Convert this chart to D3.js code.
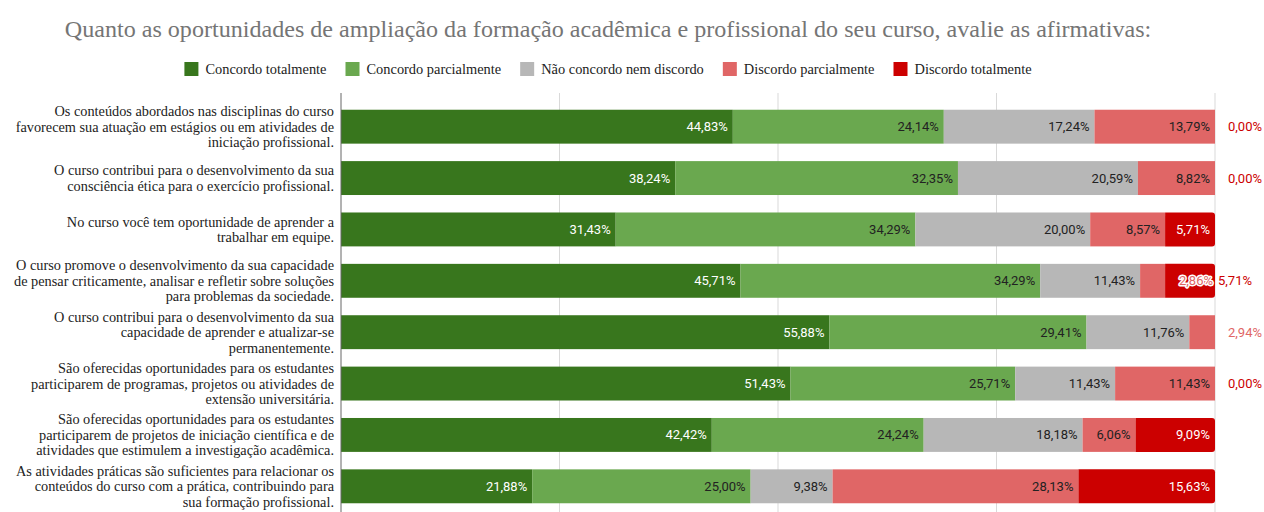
<!DOCTYPE html>
<html>
<head>
<meta charset="utf-8">
<script src="https://cdn.jsdelivr.net/npm/d3@7"></script>
<style>
  html, body { margin: 0; padding: 0; background: #fff; }
  svg { display: block; }
</style>
</head>
<body>
<svg id="chart" width="1264" height="512"></svg>
<script>
'use strict';

var title = 'Quanto as oportunidades de ampliação da formação acadêmica e profissional do seu curso, avalie as afirmativas:';

var categories = [
  'Os conteúdos abordados nas disciplinas do curso\nfavorecem sua atuação em estágios ou em atividades de\niniciação profissional.',
  'O curso contribui para o desenvolvimento da sua\nconsciência ética para o exercício profissional.',
  'No curso você tem oportunidade de aprender a\ntrabalhar em equipe.',
  'O curso promove o desenvolvimento da sua capacidade\nde pensar criticamente, analisar e refletir sobre soluções\npara problemas da sociedade.',
  'O curso contribui para o desenvolvimento da sua\ncapacidade de aprender e atualizar-se\npermanentemente.',
  'São oferecidas oportunidades para os estudantes\nparticiparem de programas, projetos ou atividades de\nextensão universitária.',
  'São oferecidas oportunidades para os estudantes\nparticiparem de projetos de iniciação científica e de\natividades que estimulem a investigação acadêmica.',
  'As atividades práticas são suficientes para relacionar os\nconteúdos do curso com a prática, contribuindo para\nsua formação profissional.'
];

var seriesNames = ['Concordo totalmente', 'Concordo parcialmente', 'Não concordo nem discordo', 'Discordo parcialmente', 'Discordo totalmente'];
var seriesColors = ['#38761d', '#6aa84f', '#b7b7b7', '#e06666', '#cc0000'];

var concordoTotal   = [44.83, 38.24, 31.43, 45.71, 55.88, 51.43, 42.42, 21.88];
var concordoParcial = [24.14, 32.35, 34.29, 34.29, 29.41, 25.71, 24.24, 25.00];
var neutro          = [17.24, 20.59, 20.00, 11.43, 11.76, 11.43, 18.18, 9.38];
var discordoParcial = [13.79, 8.82, 8.57, 2.86, 2.94, 11.43, 6.06, 28.13];
var discordoTotal   = [0.00, 0.00, 5.71, 5.71, 0.00, 0.00, 9.09, 15.63];

var gridTicks = [0, 0.25, 0.5, 0.75, 1];

var columns = [concordoTotal, concordoParcial, neutro, discordoParcial, discordoTotal];
var rows = categories.map(function(c, i) {
  var r = { cat: c, idx: i };
  seriesNames.forEach(function(s, j) { r[s] = columns[j][i]; });
  return r;
});

var svg = d3.select('#chart');
var margin = { left: 341, right: 49, top: 101 };

var x = d3.scaleLinear().domain([0, 1]).range([margin.left, 1264 - margin.right]);
var y = d3.scaleBand().domain(d3.range(categories.length)).range([margin.top, 512]).paddingInner(0.34).paddingOuter(0.17);

var stack = d3.stack().keys(seriesNames).offset(d3.stackOffsetExpand);
var layers = stack(rows);

var fmt = function(v) { return d3.format('.2f')(v).replace('.', ',') + '%'; };
var serif = '"Liberation Serif", "DejaVu Serif", serif';
var sans = 'Roboto, "Noto Sans", sans-serif';

// title
svg.append('text')
  .attr('x', 608).attr('y', 37)
  .attr('text-anchor', 'middle')
  .style('font-family', serif).style('font-size', '24.1px')
  .style('fill', '#757575')
  .text(title);

// legend
var legend = svg.append('g');
var lx = 0;
seriesNames.forEach(function(s, j) {
  var g = legend.append('g').attr('transform', 'translate(' + lx + ',0)');
  g.append('rect').attr('x', 0).attr('y', 62).attr('width', 14).attr('height', 14).attr('fill', seriesColors[j]);
  var t = g.append('text').attr('x', 21).attr('y', 74)
    .style('font-family', serif).style('font-size', '14.4px').style('fill', '#222')
    .text(s);
  lx += 21 + t.node().getComputedTextLength() + 19;
});
legend.attr('transform', 'translate(' + (608 - (lx - 19) / 2) + ',0)');

// grid
svg.append('g').selectAll('line')
  .data(gridTicks.slice(1))
  .enter().append('line')
  .attr('x1', function(d) { return x(d); }).attr('x2', function(d) { return x(d); })
  .attr('y1', 93).attr('y2', 512)
  .attr('stroke', '#d9d9d9').attr('stroke-width', 1);

// bars
var rightRound = function(x0, y0, w, h, r) {
  r = Math.min(r, w);
  return 'M' + x0 + ',' + y0 + 'H' + (x0 + w - r) + 'Q' + (x0 + w) + ',' + y0 + ' ' + (x0 + w) + ',' + (y0 + r) +
    'V' + (y0 + h - r) + 'Q' + (x0 + w) + ',' + (y0 + h) + ' ' + (x0 + w - r) + ',' + (y0 + h) + 'H' + x0 + 'Z';
};

layers.forEach(function(layer, j) {
  var g = svg.append('g');
  if (j === layers.length - 1) {
    g.selectAll('path').data(layer.filter(function(d) { return d[1] - d[0] > 0; }))
      .enter().append('path')
      .attr('d', function(d) {
        return rightRound(x(d[0]), y(d.data.idx), x(d[1]) - x(d[0]), y.bandwidth(), 3);
      })
      .attr('fill', seriesColors[j]);
  } else {
    g.selectAll('rect').data(layer)
      .enter().append('rect')
      .attr('x', function(d) { return x(d[0]); })
      .attr('y', function(d) { return y(d.data.idx); })
      .attr('width', function(d) { return Math.max(0, x(d[1]) - x(d[0])); })
      .attr('height', y.bandwidth())
      .attr('fill', seriesColors[j]);
  }
});

// axis line at 0
svg.append('line')
  .attr('x1', x(0)).attr('x2', x(0)).attr('y1', 93).attr('y2', 512)
  .attr('stroke', '#666').attr('stroke-width', 1);

// value labels
var labels = svg.append('g').style('font-family', sans).style('font-size', '13px');
var darkText = [true, false, false, false, true];
var measure = labels.append('text').attr('opacity', 0);
var textW = function(s) { measure.text(s); return measure.node().getComputedTextLength(); };

rows.forEach(function(r, i) {
  var cy = y(i) + y.bandwidth() / 2 + 4.5;
  var xEnd = x(1);
  var outsideUsed = false;
  var pushNext = false;
  layers.forEach(function(layer, j) {
    var d = layer[i];
    var v = r[seriesNames[j]];
    var s = fmt(v);
    var w = x(d[1]) - x(d[0]);
    if (pushNext) {
      labels.append('text').attr('x', xEnd + 3).attr('y', cy).text(s).style('fill', seriesColors[j]);
      pushNext = false;
      outsideUsed = true;
      return;
    }
    if (v === 0) {
      if (!outsideUsed) {
        labels.append('text').attr('x', xEnd + 13).attr('y', cy).text(s).style('fill', seriesColors[j]);
        outsideUsed = true;
      }
      return;
    }
    if (w >= textW(s) + 8) {
      labels.append('text').attr('x', x(d[1]) - 5).attr('y', cy)
        .attr('text-anchor', 'end').text(s)
        .style('fill', darkText[j] ? '#fff' : '#222');
      return;
    }
    var next = layers[j + 1] ? r[seriesNames[j + 1]] : 0;
    if (next > 0) {
      labels.append('text').attr('x', xEnd - 2).attr('y', cy)
        .attr('text-anchor', 'end').text(s)
        .style('fill', seriesColors[j])
        .style('stroke', '#fff').style('stroke-width', 3).style('paint-order', 'stroke')
        .style('stroke-linejoin', 'round');
      pushNext = true;
    } else {
      labels.append('text').attr('x', xEnd + 13).attr('y', cy).text(s).style('fill', seriesColors[j]);
      outsideUsed = true;
    }
  });
});
measure.remove();

// category labels
var yl = svg.append('g').style('font-family', serif).style('font-size', '14.3px').style('fill', '#222');
rows.forEach(function(r, i) {
  var lines = r.cat.split('\n');
  var lh = 15.5;
  var cy = y(i) + y.bandwidth() / 2;
  var t = yl.append('text').attr('text-anchor', 'end');
  lines.forEach(function(line, k) {
    t.append('tspan')
      .attr('x', x(0) - 7)
      .attr('y', cy + (k - (lines.length - 1) / 2) * lh + 5)
      .text(line);
  });
});
</script>
</body>
</html>
